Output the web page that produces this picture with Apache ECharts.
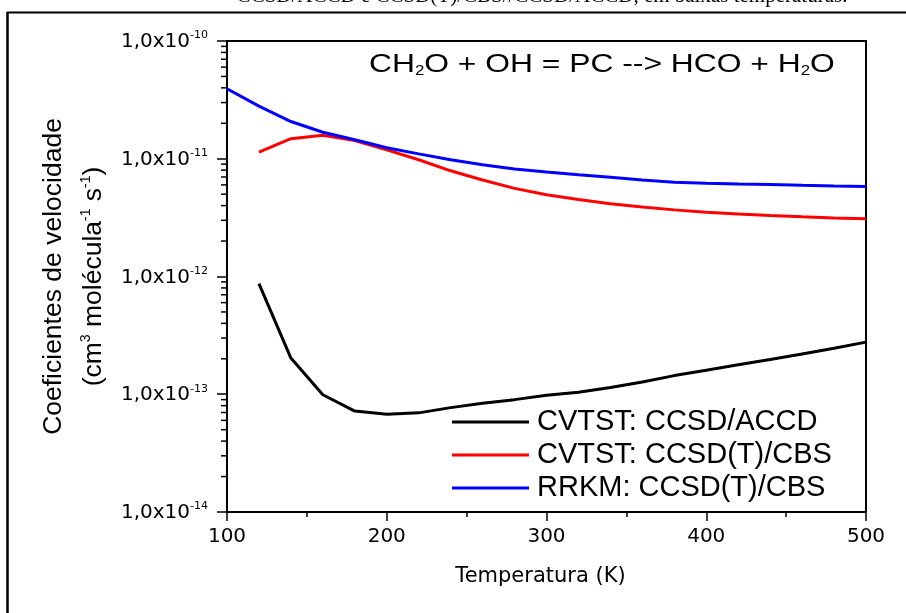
<!DOCTYPE html>
<html>
<head>
<meta charset="utf-8">
<script src="https://cdn.jsdelivr.net/npm/echarts@6/dist/echarts.min.js"></script>
<style>
  html, body { margin: 0; padding: 0; background: #fff; }
  #main { width: 906px; height: 613px; }
</style>
</head>
<body>
<div id="main"></div>
<script>
// DATA
const tempK = [100, 120, 140, 160, 180, 200, 220, 240, 260, 280, 300,
  320, 340, 360, 380, 400, 420, 440, 460, 480, 500]

const cvtstAccd = [null, 8.7e-13, 2.03e-13, 9.9e-14, 7.2e-14, 6.75e-14, 6.95e-14, 7.7e-14, 8.4e-14, 9.0e-14, 9.8e-14,
  1.04e-13, 1.14e-13, 1.27e-13, 1.44e-13, 1.6e-13, 1.78e-13, 1.97e-13, 2.2e-13, 2.46e-13, 2.77e-13]

const cvtstCbs = [null, 1.14e-11, 1.48e-11, 1.58e-11, 1.43e-11, 1.19e-11, 9.8e-12, 7.9e-12, 6.6e-12, 5.6e-12, 4.95e-12,
  4.5e-12, 4.15e-12, 3.9e-12, 3.68e-12, 3.52e-12, 3.4e-12, 3.3e-12, 3.21e-12, 3.14e-12, 3.09e-12]

const rrkmCbs = [3.93e-11, 2.8e-11, 2.07e-11, 1.68e-11, 1.45e-11, 1.24e-11, 1.1e-11, 9.8e-12, 8.9e-12, 8.2e-12, 7.7e-12,
  7.3e-12, 6.95e-12, 6.6e-12, 6.33e-12, 6.2e-12, 6.1e-12, 6.05e-12, 5.95e-12, 5.88e-12, 5.82e-12]

const seriesNames = ['CVTST: CCSD/ACCD', 'CVTST: CCSD(T)/CBS', 'RRKM: CCSD(T)/CBS']

// axis ticks
const xTicks = [100, 200, 300, 400, 500]
const yDecades = [1e-14, 1e-13, 1e-12, 1e-11, 1e-10]
const yMinorSteps = [2, 3, 4, 5, 6, 7, 8, 9]

const caption = 'CCSD/ACCD e CCSD(T)/CBS//CCSD/ACCD, em baixas temperaturas.'

// HELPERS
const pairs = values => tempK.map((t, i) => [t, values[i]])

const minorTickVals = []
yDecades.slice(0, -1).forEach(d => yMinorSteps.forEach(k => minorTickVals.push(k * d)))

const sansWide = '"DejaVu Sans", sans-serif'
const sans = '"Liberation Sans", Arial, sans-serif'

const lineSeries = (name, values, color) => ({
  name,
  type: 'line',
  data: pairs(values),
  symbol: 'none',
  smooth: false,
  connectNulls: false,
  lineStyle: { color, width: 3 },
  itemStyle: { color },
  z: 3
})

const chart = echarts.init(document.getElementById('main'))

chart.setOption({
  animation: false,
  backgroundColor: '#fff',
  grid: {
    left: 227, right: 40, top: 41, bottom: 101,
    show: true, borderColor: '#000', borderWidth: 2
  },
  legend: {
    data: seriesNames,
    orient: 'vertical',
    left: 452,
    top: 407,
    padding: 0,
    icon: 'rect',
    itemWidth: 77,
    itemHeight: 3,
    itemGap: 3,
    selectedMode: false,
    textStyle: { fontFamily: sans, fontSize: 29, color: '#000', lineHeight: 30, padding: [0, 0, 0, 3] }
  },
  xAxis: {
    type: 'value',
    min: xTicks[0],
    max: xTicks[xTicks.length - 1],
    interval: 100,
    axisLine: { lineStyle: { color: '#000', width: 2 } },
    axisTick: { length: 9, lineStyle: { color: '#000', width: 1.5 } },
    minorTick: { show: true, splitNumber: 2, length: 5, lineStyle: { color: '#000', width: 1.5 } },
    splitLine: { show: false },
    axisLabel: { fontFamily: sansWide, fontSize: 20, color: '#000', margin: 15 },
    name: 'Temperatura (K)',
    nameLocation: 'middle',
    nameGap: 54,
    nameTextStyle: { fontFamily: sansWide, fontSize: 21, color: '#000', padding: [0, 12, 0, 0] }
  },
  yAxis: {
    type: 'log',
    logBase: 10,
    min: yDecades[0],
    max: yDecades[yDecades.length - 1],
    axisLine: { lineStyle: { color: '#000', width: 2 } },
    axisTick: { length: 10, lineStyle: { color: '#000', width: 1.5 } },
    splitLine: { show: false },
    axisLabel: {
      margin: 19,
      formatter: v => '{m|1,0x10}{s|' + Math.round(Math.log10(v)) + '}',
      rich: {
        m: { fontFamily: sansWide, fontSize: 20, color: '#000', verticalAlign: 'bottom' },
        s: { fontFamily: sansWide, fontSize: 11, color: '#000', verticalAlign: 'bottom', padding: [0, 0, 11, 0] }
      }
    },
    name: '{t|Coeficientes de velocidade}\n{t|(cm}{p|3}{t| molécula}{p|-1}{t| s}{p|-1}{t|)}',
    nameLocation: 'middle',
    nameRotate: 90,
    nameGap: 120,
    nameTextStyle: {
      lineHeight: 40,
      rich: {
        t: { fontFamily: sans, fontSize: 26.5, color: '#000', lineHeight: 40, verticalAlign: 'bottom' },
        p: { fontFamily: sans, fontSize: 14, color: '#000', lineHeight: 40, verticalAlign: 'bottom', padding: [0, 0, 14, 0] }
      }
    }
  },
  graphic: [
    // page frame + cut caption from the source document
    { type: 'line', shape: { x1: 7, y1: 12.5, x2: 906, y2: 12.5 }, style: { stroke: '#000', lineWidth: 2 } },
    { type: 'line', shape: { x1: 7.5, y1: 12, x2: 7.5, y2: 613 }, style: { stroke: '#000', lineWidth: 2.5 } },
    {
      type: 'text', x: 542, y: -4,
      style: { text: caption, font: '21px "Liberation Serif", "Times New Roman", serif', fill: '#000', align: 'center', verticalAlign: 'middle' }
    },
    // reaction label
    {
      type: 'text', x: 369, y: 65, scaleX: 1.2, z: 10,
      style: {
        text: '{a|CH}{s|2}{a|O + OH = PC --> HCO + H}{s|2}{a|O}',
        verticalAlign: 'middle',
        rich: {
          a: { fontFamily: sans, fontSize: 26.5, fill: '#000', verticalAlign: 'bottom' },
          s: { fontFamily: sans, fontSize: 14, fill: '#000', verticalAlign: 'bottom' }
        }
      }
    }
  ],
  series: [
    lineSeries(seriesNames[0], cvtstAccd, '#000000'),
    lineSeries(seriesNames[1], cvtstCbs, '#ff0000'),
    lineSeries(seriesNames[2], rrkmCbs, '#0000ff'),
    {
      // log minor ticks (2..9 per decade) on the left axis
      type: 'custom',
      silent: true,
      clip: false,
      data: minorTickVals.map(v => [xTicks[0], v]),
      renderItem: (params, api) => {
        const p = api.coord([api.value(0), api.value(1)])
        return {
          type: 'line',
          shape: { x1: p[0] - 6, y1: p[1], x2: p[0], y2: p[1] },
          style: { stroke: '#000', lineWidth: 1.5 }
        }
      },
      z: 5
    }
  ]
})
</script>
</body>
</html>
